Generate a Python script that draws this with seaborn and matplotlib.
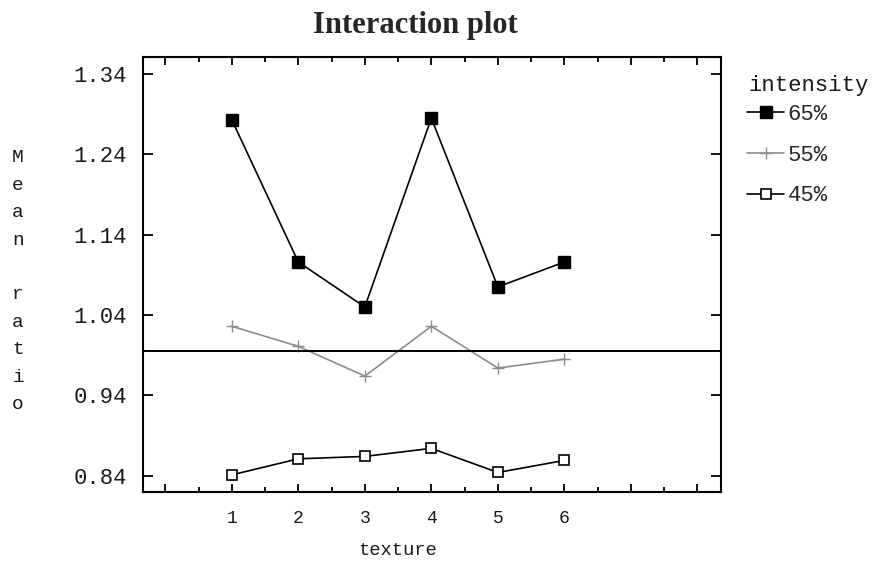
import numpy as np
import pandas as pd
import matplotlib
matplotlib.use("Agg")
import matplotlib.pyplot as plt
import seaborn as sns

# ---- data ----
texture = [1, 2, 3, 4, 5, 6]
levels = ["65%", "55%", "45%"]
ratio_65 = [1.283, 1.106, 1.050, 1.285, 1.075, 1.106]
ratio_55 = [1.026, 1.001, 0.964, 1.026, 0.974, 0.985]
ratio_45 = [0.841, 0.861, 0.864, 0.874, 0.844, 0.859]
grand_mean = 0.9956
yticks = [0.84, 0.94, 1.04, 1.14, 1.24, 1.34]
ytick_labels = ["0.84", "0.94", "1.04", "1.14", "1.24", "1.34"]

df = pd.DataFrame({
    "texture": texture * 3,
    "ratio": ratio_65 + ratio_55 + ratio_45,
    "intensity": [levels[0]] * 6 + [levels[1]] * 6 + [levels[2]] * 6,
})

sns.set_style("white")
plt.rcParams["font.family"] = ["Liberation Mono", "DejaVu Sans Mono"]

fig = plt.figure(figsize=(8.82, 5.61), dpi=100)
ax = fig.add_axes([0.1625, 0.123, 0.6546, 0.7749])

styles = {
    "65%": dict(color="black", marker="s", markersize=8, mfc="black", mec="black", mew=1.0),
    "55%": dict(color="#8c8c8c", marker="+", markersize=9, mfc="#8c8c8c", mec="#8c8c8c", mew=1.0),
    "45%": dict(color="black", marker="s", markersize=6.5, mfc="white", mec="black", mew=1.2),
}
for lev in levels:
    sub = df[df["intensity"] == lev]
    sns.lineplot(data=sub, x="texture", y="ratio", ax=ax, label=lev,
                 linewidth=1.2, **styles[lev])

ax.axhline(grand_mean, color="black", linewidth=1.4)

ax.set_xlim(-0.33, 8.35)
ax.set_ylim(0.8197, 1.3608)

ax.set_xticks(np.arange(0, 9, 1))
ax.set_xticklabels(["", "1", "2", "3", "4", "5", "6", "", ""])
ax.set_xticks(np.arange(0, 8.5, 0.5), minor=True)
ax.set_yticks(yticks)
ax.set_yticklabels(ytick_labels)

ax.tick_params(axis="both", which="both", direction="in", top=True, right=True,
               bottom=True, left=True, colors="black", width=1.3)
ax.tick_params(axis="y", which="major", length=7.5, pad=12, labelsize=16,
               labelcolor="#1a1a1a")
ax.tick_params(axis="x", which="major", length=6, pad=13, labelsize=13,
               labelcolor="#1a1a1a")
ax.tick_params(axis="x", which="minor", length=3.5)

for s in ax.spines.values():
    s.set_visible(True)
    s.set_color("black")
    s.set_linewidth(1.5)

ax.set_xlabel("texture", fontsize=13.5, color="#1a1a1a")
ax.xaxis.set_label_coords((3.5 + 0.33) / 8.68, -0.115)
ax.set_ylabel("M\ne\na\nn\n\nr\na\nt\ni\no", rotation=0, fontsize=14,
              linespacing=1.8, va="center", ha="center", color="#1a1a1a")
ax.yaxis.set_label_coords(-0.217, 0.485)

fig.text(415 / 882, 1 - 33 / 561, "Interaction plot", ha="center", va="baseline",
         fontsize=22, fontweight="bold", family=["Liberation Serif", "DejaVu Serif"])

ax.text(1.049, 0.936, "intensity", transform=ax.transAxes, ha="left", va="center",
        fontsize=16, color="#1a1a1a")
leg = ax.legend(loc="upper left", bbox_to_anchor=(1.045, 0.892), frameon=False,
                fontsize=16, handlelength=1.7, handletextpad=0.15,
                labelspacing=0.88, borderpad=0, borderaxespad=0)

fig.savefig("out.png", dpi=100, facecolor="white")
